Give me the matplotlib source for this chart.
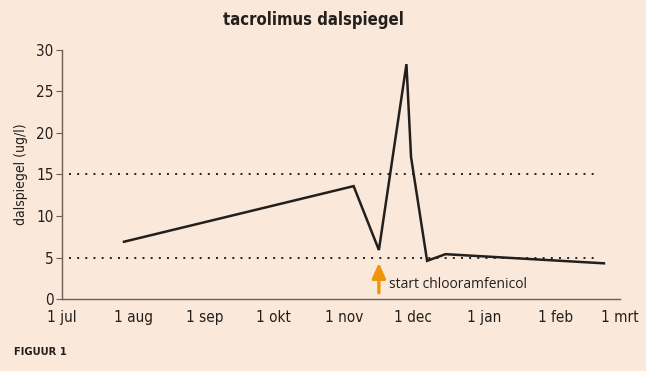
import datetime as dt
import matplotlib
matplotlib.use("Agg")
import matplotlib.pyplot as plt

# meetmomenten en spiegels (ug/l)
dates = ["2012-07-28", "2012-11-05", "2012-11-16", "2012-11-28", "2012-11-30",
         "2012-12-07", "2012-12-15", "2013-02-22"]
levels = [6.9, 13.6, 5.9, 28.3, 17.1, 4.6, 5.4, 4.3]

# streefbereik
range_start = "2012-07-04"
range_end = "2013-02-18"
range_levels = [5, 15]

start_date = "2012-11-16"
start_label = "start chlooramfenicol"

month_ticks = ["2012-07-01", "2012-08-01", "2012-09-01", "2012-10-01", "2012-11-01",
               "2012-12-01", "2013-01-01", "2013-02-01", "2013-03-01"]
month_labels = ["1 jul", "1 aug", "1 sep", "1 okt", "1 nov", "1 dec", "1 jan", "1 feb", "1 mrt"]

bg = "#fae8da"
axis_col = "#6e5e55"
text_col = "#231f1c"

plt.rcParams['font.family'] = ['DejaVu Sans']
plt.rcParams['font.stretch'] = 'condensed'


def d(s):
    return dt.datetime.strptime(s, "%Y-%m-%d")


fig = plt.figure(figsize=(6.46, 3.71), dpi=100, facecolor=bg)
ax = fig.add_axes([62 / 646, 1 - 299 / 371, 558 / 646, 249 / 371])
ax.set_facecolor(bg)

# streeflijnen
for lvl in range_levels:
    ax.plot([d(range_start), d(range_end)], [lvl, lvl], color=text_col, lw=1.4,
            linestyle=(0, (1, 3.2)))

ax.plot([d(s) for s in dates], levels, color=text_col, lw=1.8, solid_joinstyle="miter")

ax.annotate("", xy=(d(start_date), 4.7), xytext=(d(start_date), 0.4),
            arrowprops=dict(arrowstyle="-|>,head_width=0.4,head_length=0.9",
                            color="#f0940a", lw=2.4))
ax.text(d(start_date) + dt.timedelta(days=4.5), 1.7, start_label, fontsize=10,
        color=text_col, family=['Open Sans', 'DejaVu Sans'], stretch='normal', va="center")

ax.set_xlim(d(month_ticks[0]), d(month_ticks[-1]))
ax.set_ylim(0, 30)
ax.set_xticks([d(s) for s in month_ticks])
ax.set_xticklabels(month_labels)
ax.set_yticks([0, 5, 10, 15, 20, 25, 30])

for side in ["top", "right"]:
    ax.spines[side].set_visible(False)
for side in ["left", "bottom"]:
    ax.spines[side].set_color(axis_col)
    ax.spines[side].set_linewidth(1.0)
ax.tick_params(axis="y", length=4, color=axis_col, labelsize=11, labelcolor=text_col, pad=2)
ax.tick_params(axis="x", length=0, labelsize=11, labelcolor=text_col, pad=8)

ax.set_ylabel("dalspiegel (ug/l)", fontsize=10, color=text_col, labelpad=6)

fig.text(313 / 646, 1 - 20 / 371, "tacrolimus dalspiegel", ha="center", va="center",
         fontsize=12, fontweight="bold", color=text_col)
fig.text(14 / 646, 1 - 352 / 371, "FIGUUR 1", ha="left", va="center",
         fontsize=8, fontweight="bold", color=text_col)

fig.savefig("out.png", dpi=100, facecolor=bg)
